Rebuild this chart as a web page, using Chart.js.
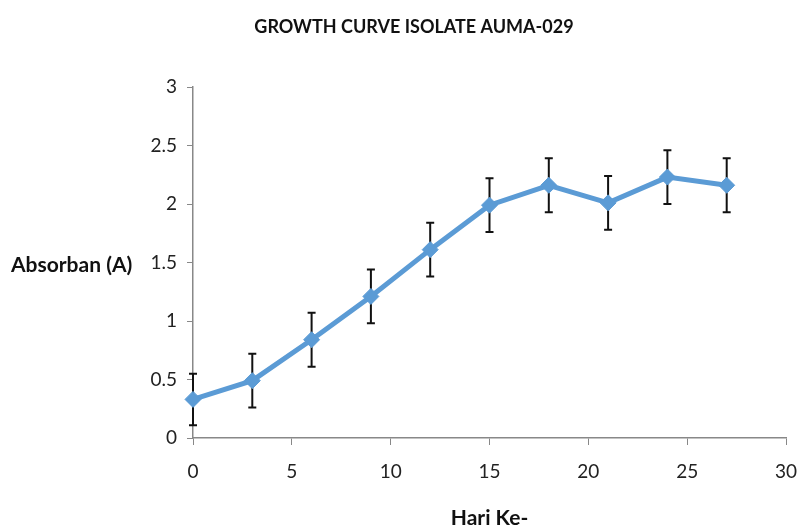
<!DOCTYPE html>
<html>
<head>
<meta charset="utf-8">
<script src="https://cdn.jsdelivr.net/npm/chart.js@4.4.1/dist/chart.umd.min.js"></script>
<style>
  html, body { margin: 0; padding: 0; background: #fff; }
  #wrap { width: 800px; height: 527px; }
</style>
</head>
<body>
<div id="wrap"><canvas id="growth_chart" width="800" height="527"></canvas></div>
<script>
const days = [0, 3, 6, 9, 12, 15, 18, 21, 24, 27];
const absorbance = [0.33, 0.49, 0.84, 1.21, 1.61, 1.99, 2.16, 2.01, 2.23, 2.16];
const errors = [0.22, 0.23, 0.23, 0.23, 0.23, 0.23, 0.23, 0.23, 0.23, 0.23];

const chartTitle = 'GROWTH CURVE ISOLATE AUMA-029';
const xTitle = 'Hari Ke-';
const yTitle = 'Absorban (A)';

const points = days.map((d, i) => ({ x: d, y: absorbance[i] }));

const font = 'Lato, "Open Sans", sans-serif';

// black error bars, drawn under the line
const errorBars = {
  id: 'errorBars',
  beforeDatasetsDraw(chart) {
    const ctx = chart.ctx;
    const xs = chart.scales.x;
    const ys = chart.scales.y;
    ctx.save();
    ctx.strokeStyle = '#111';
    ctx.lineWidth = 2;
    days.forEach((d, i) => {
      const px = xs.getPixelForValue(d);
      const top = ys.getPixelForValue(absorbance[i] + errors[i]);
      const bot = ys.getPixelForValue(absorbance[i] - errors[i]);
      ctx.beginPath();
      ctx.moveTo(px, top); ctx.lineTo(px, bot);
      ctx.moveTo(px - 4, top); ctx.lineTo(px + 4, top);
      ctx.moveTo(px - 4, bot); ctx.lineTo(px + 4, bot);
      ctx.stroke();
    });
    ctx.restore();
  }
};

// chart title and horizontal y axis title
const sideTexts = {
  id: 'sideTexts',
  afterDraw(chart) {
    const ctx = chart.ctx;
    ctx.save();
    ctx.fillStyle = '#111';
    ctx.textBaseline = 'middle';
    ctx.font = 'bold 18px ' + font;
    ctx.textAlign = 'center';
    ctx.fillText(chartTitle, 414, 27);
    ctx.font = 'bold 21px ' + font;
    ctx.textAlign = 'left';
    ctx.fillText(yTitle, 11, 265);
    ctx.restore();
  }
};

const ctx = document.getElementById('growth_chart').getContext('2d');
const growth_chart = new Chart(ctx, {
  type: 'line',
  data: {
    datasets: [{
      data: points,
      borderColor: '#5B9BD5',
      backgroundColor: '#5B9BD5',
      borderWidth: 5,
      pointStyle: 'rectRot',
      pointRadius: 8,
      pointBorderWidth: 1,
      pointBorderColor: '#5B9BD5',
      tension: 0,
      clip: false
    }]
  },
  options: {
    responsive: false,
    animation: false,
    layout: { padding: { left: 0, right: 14, top: 87, bottom: 0 } },
    plugins: {
      legend: { display: false },
      tooltip: { enabled: false },
      title: { display: false }
    },
    scales: {
      x: {
        type: 'linear',
        min: 0,
        max: 30,
        afterFit(scale) { scale.paddingRight = 0; },
        ticks: { stepSize: 5, color: '#222', font: { family: font, size: 19 }, padding: 15 },
        grid: { display: true, drawOnChartArea: false, drawTicks: true, tickLength: 7, color: '#888' },
        border: { display: true, color: '#888', width: 1.5 },
        title: {
          display: true,
          text: xTitle,
          color: '#111',
          font: { family: font, size: 21, weight: 'bold' },
          padding: { top: 8, bottom: -4 }
        }
      },
      y: {
        min: 0,
        max: 3,
        afterFit(scale) { scale.width = 193; },
        ticks: {
          stepSize: 0.5,
          color: '#222',
          font: { family: font, size: 19 },
          padding: 10,
          callback: v => String(v)
        },
        grid: { display: true, drawOnChartArea: false, drawTicks: true, tickLength: 6, color: '#888' },
        border: { display: true, color: '#888', width: 1.5 }
      }
    }
  },
  plugins: [errorBars, sideTexts]
});
</script>
</body>
</html>
